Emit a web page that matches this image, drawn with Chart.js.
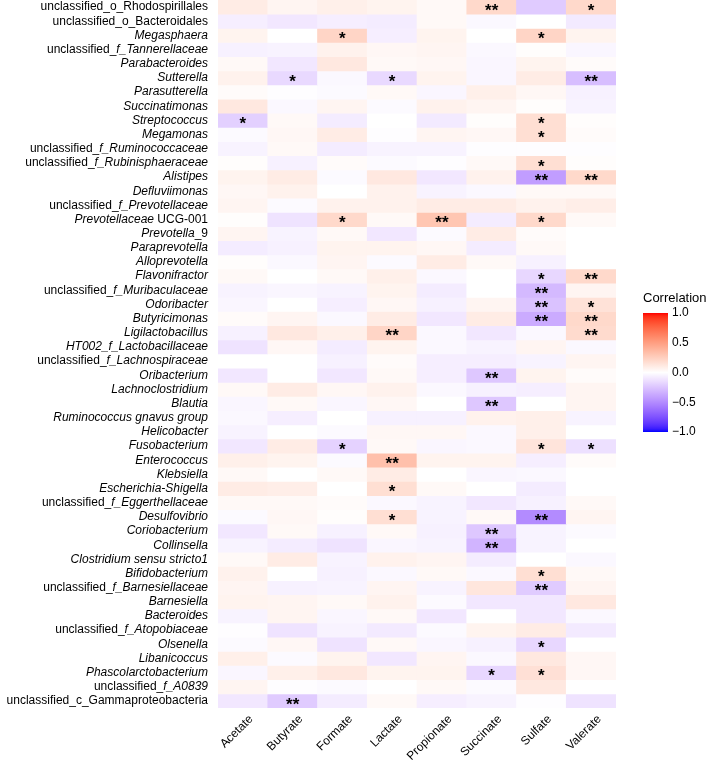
<!DOCTYPE html>
<html>
<head>
<meta charset="utf-8">
<script src="https://cdn.jsdelivr.net/npm/chart.js@4"></script>
<style>
  body { margin: 0; background: #fff; }
  #wrap { width: 717px; height: 764px; position: relative; }
</style>
</head>
<body>
<div id="wrap"><canvas id="heat"></canvas></div>
<script>
const acids = ["Acetate", "Butyrate", "Formate", "Lactate", "Propionate", "Succinate", "Sulfate", "Valerate"];

// each label: [upright prefix, italic part, upright suffix]
const taxa = [
    ["unclassified_o_Rhodospirillales", "", ""],
    ["unclassified_o_Bacteroidales", "", ""],
    ["", "Megasphaera", ""],
    ["unclassified_", "f_Tannerellaceae", ""],
    ["", "Parabacteroides", ""],
    ["", "Sutterella", ""],
    ["", "Parasutterella", ""],
    ["", "Succinatimonas", ""],
    ["", "Streptococcus", ""],
    ["", "Megamonas", ""],
    ["unclassified_", "f_Ruminococcaceae", ""],
    ["unclassified_", "f_Rubinisphaeraceae", ""],
    ["", "Alistipes", ""],
    ["", "Defluviimonas", ""],
    ["unclassified_", "f_Prevotellaceae", ""],
    ["", "Prevotellaceae", " UCG-001"],
    ["", "Prevotella", "_9"],
    ["", "Paraprevotella", ""],
    ["", "Alloprevotella", ""],
    ["", "Flavonifractor", ""],
    ["unclassified_", "f_Muribaculaceae", ""],
    ["", "Odoribacter", ""],
    ["", "Butyricimonas", ""],
    ["", "Ligilactobacillus", ""],
    ["", "HT002_f_Lactobacillaceae", ""],
    ["unclassified_", "f_Lachnospiraceae", ""],
    ["", "Oribacterium", ""],
    ["", "Lachnoclostridium", ""],
    ["", "Blautia", ""],
    ["", "Ruminococcus gnavus group", ""],
    ["", "Helicobacter", ""],
    ["", "Fusobacterium", ""],
    ["", "Enterococcus", ""],
    ["", "Klebsiella", ""],
    ["", "Escherichia-Shigella", ""],
    ["unclassified_", "f_Eggerthellaceae", ""],
    ["", "Desulfovibrio", ""],
    ["", "Coriobacterium", ""],
    ["", "Collinsella", ""],
    ["", "Clostridium sensu stricto1", ""],
    ["", "Bifidobacterium", ""],
    ["unclassified_", "f_Barnesiellaceae", ""],
    ["", "Barnesiella", ""],
    ["", "Bacteroides", ""],
    ["unclassified_", "f_Atopobiaceae", ""],
    ["", "Olsenella", ""],
    ["", "Libanicoccus", ""],
    ["", "Phascolarctobacterium", ""],
    ["unclassified_", "f_A0839", ""],
    ["unclassified_c_Gammaproteobacteria", "", ""]
];

// correlation, rows follow taxa, columns follow acids
const corr = [
    [0.10, 0.05, 0.08, 0.06, 0.03, 0.20, -0.22, 0.20],
    [-0.07, -0.10, -0.07, -0.08, 0.03, -0.03, 0.00, -0.09],
    [0.06, 0.00, 0.22, -0.07, 0.06, 0.00, 0.22, 0.06],
    [-0.06, -0.05, 0.07, 0.04, 0.05, -0.03, 0.01, -0.04],
    [0.03, -0.10, 0.12, 0.03, 0.04, -0.04, 0.06, 0.02],
    [0.07, -0.16, -0.03, -0.16, 0.06, -0.04, 0.10, -0.28],
    [0.02, -0.01, -0.02, 0.03, -0.04, 0.08, 0.04, -0.06],
    [0.12, -0.03, 0.05, -0.02, 0.07, 0.05, 0.01, -0.05],
    [-0.20, 0.03, -0.08, 0.00, -0.09, 0.01, 0.17, 0.01],
    [-0.02, 0.04, 0.10, -0.01, 0.05, 0.04, 0.17, 0.02],
    [-0.05, 0.03, -0.08, -0.05, -0.05, -0.01, -0.01, -0.01],
    [0.01, -0.06, 0.02, -0.02, -0.01, 0.03, 0.17, 0.01],
    [0.06, 0.10, -0.02, 0.12, -0.10, 0.07, -0.42, 0.20],
    [0.04, 0.07, 0.00, 0.07, -0.05, -0.03, 0.03, 0.03],
    [0.05, -0.02, 0.07, 0.07, 0.10, 0.10, 0.07, 0.09],
    [0.01, -0.12, 0.20, 0.03, 0.30, -0.08, 0.20, 0.03],
    [0.05, -0.05, 0.03, -0.10, -0.02, 0.10, 0.02, 0.00],
    [-0.08, -0.06, 0.06, 0.06, 0.04, -0.08, 0.03, 0.00],
    [0.01, -0.03, 0.05, -0.02, 0.10, 0.03, -0.06, 0.00],
    [0.03, 0.00, 0.03, 0.08, -0.03, 0.00, -0.17, 0.20],
    [-0.05, -0.04, -0.05, 0.06, -0.08, 0.00, -0.30, 0.05],
    [-0.04, 0.00, -0.07, 0.04, -0.06, 0.05, -0.26, 0.15],
    [0.02, 0.05, -0.03, 0.10, -0.10, 0.10, -0.36, 0.20],
    [-0.06, 0.12, 0.08, 0.22, -0.03, -0.10, -0.03, 0.19],
    [-0.12, 0.04, -0.08, 0.06, -0.03, -0.05, 0.05, -0.03],
    [0.00, 0.00, -0.06, 0.02, -0.07, -0.07, -0.05, 0.05],
    [-0.10, 0.00, -0.10, 0.03, -0.07, -0.24, 0.06, 0.02],
    [0.03, 0.10, 0.04, 0.07, -0.03, -0.06, -0.07, 0.05],
    [-0.04, 0.03, -0.04, 0.04, 0.00, -0.24, 0.00, 0.05],
    [-0.03, -0.07, 0.00, -0.06, -0.06, 0.07, 0.08, -0.05],
    [-0.05, 0.00, -0.02, 0.04, 0.04, -0.03, 0.08, 0.00],
    [-0.10, 0.10, -0.19, 0.03, -0.04, -0.03, 0.14, -0.13],
    [0.08, 0.06, -0.02, 0.33, 0.06, 0.06, -0.07, 0.02],
    [0.03, 0.00, 0.03, 0.10, 0.00, -0.04, -0.03, 0.00],
    [0.10, 0.09, 0.00, 0.17, 0.03, 0.00, -0.08, 0.00],
    [0.03, 0.03, 0.02, -0.03, -0.05, -0.10, -0.06, 0.03],
    [-0.02, 0.04, 0.01, 0.17, -0.05, 0.03, -0.50, 0.05],
    [-0.10, 0.03, -0.06, 0.03, -0.06, -0.24, -0.05, -0.02],
    [-0.05, -0.08, -0.12, -0.04, -0.05, -0.32, -0.05, 0.00],
    [0.03, 0.10, -0.05, 0.07, 0.05, -0.08, 0.00, -0.03],
    [0.07, 0.00, -0.06, -0.03, 0.03, -0.03, 0.17, 0.03],
    [0.05, -0.06, -0.05, 0.05, -0.05, 0.13, -0.22, 0.05],
    [0.06, 0.05, 0.03, 0.07, -0.02, -0.10, -0.10, 0.12],
    [-0.05, 0.05, -0.04, 0.03, -0.10, 0.00, -0.10, -0.03],
    [-0.01, -0.12, -0.05, -0.09, -0.02, 0.06, 0.10, -0.09],
    [-0.02, 0.04, -0.12, 0.03, -0.04, -0.06, -0.17, 0.00],
    [0.08, -0.02, 0.06, -0.10, 0.05, -0.03, 0.12, 0.04],
    [-0.04, 0.08, 0.12, 0.06, 0.06, -0.17, 0.16, 0.04],
    [0.05, -0.01, -0.02, 0.00, 0.03, -0.02, 0.12, 0.00],
    [-0.10, -0.22, -0.08, 0.03, -0.07, -0.05, -0.01, -0.12]
];

// significance marks, same layout as corr
const signif = [
    ["", "", "", "", "", "**", "", "*"],
    ["", "", "", "", "", "", "", ""],
    ["", "", "*", "", "", "", "*", ""],
    ["", "", "", "", "", "", "", ""],
    ["", "", "", "", "", "", "", ""],
    ["", "*", "", "*", "", "", "", "**"],
    ["", "", "", "", "", "", "", ""],
    ["", "", "", "", "", "", "", ""],
    ["*", "", "", "", "", "", "*", ""],
    ["", "", "", "", "", "", "*", ""],
    ["", "", "", "", "", "", "", ""],
    ["", "", "", "", "", "", "*", ""],
    ["", "", "", "", "", "", "**", "**"],
    ["", "", "", "", "", "", "", ""],
    ["", "", "", "", "", "", "", ""],
    ["", "", "*", "", "**", "", "*", ""],
    ["", "", "", "", "", "", "", ""],
    ["", "", "", "", "", "", "", ""],
    ["", "", "", "", "", "", "", ""],
    ["", "", "", "", "", "", "*", "**"],
    ["", "", "", "", "", "", "**", ""],
    ["", "", "", "", "", "", "**", "*"],
    ["", "", "", "", "", "", "**", "**"],
    ["", "", "", "**", "", "", "", "**"],
    ["", "", "", "", "", "", "", ""],
    ["", "", "", "", "", "", "", ""],
    ["", "", "", "", "", "**", "", ""],
    ["", "", "", "", "", "", "", ""],
    ["", "", "", "", "", "**", "", ""],
    ["", "", "", "", "", "", "", ""],
    ["", "", "", "", "", "", "", ""],
    ["", "", "*", "", "", "", "*", "*"],
    ["", "", "", "**", "", "", "", ""],
    ["", "", "", "", "", "", "", ""],
    ["", "", "", "*", "", "", "", ""],
    ["", "", "", "", "", "", "", ""],
    ["", "", "", "*", "", "", "**", ""],
    ["", "", "", "", "", "**", "", ""],
    ["", "", "", "", "", "**", "", ""],
    ["", "", "", "", "", "", "", ""],
    ["", "", "", "", "", "", "*", ""],
    ["", "", "", "", "", "", "**", ""],
    ["", "", "", "", "", "", "", ""],
    ["", "", "", "", "", "", "", ""],
    ["", "", "", "", "", "", "", ""],
    ["", "", "", "", "", "", "*", ""],
    ["", "", "", "", "", "", "", ""],
    ["", "", "", "", "", "*", "*", ""],
    ["", "", "", "", "", "", "", ""],
    ["", "**", "", "", "", "", "", ""]
];

const legendBreaks = [1.0, 0.5, 0.0, -0.5, -1.0];
const legendLabels = ["1.0", "0.5", "0.0", "\u22120.5", "\u22121.0"];

// blue - white - red, mixed in Lab like ggplot's gradient2
const LAB_RED = [53.24, 80.09, 67.20];
const LAB_WHITE = [100, 0, 0];
const LAB_BLUE = [32.30, 79.19, -107.86];

function labToRgb(L, a, b) {
    let fy = (L + 16) / 116;
    let fx = fy + a / 500;
    let fz = fy - b / 200;
    const finv = t => t * t * t > 0.008856 ? t * t * t : (t - 16 / 116) / 7.787;
    let X = 0.95047 * finv(fx), Y = finv(fy), Z = 1.08883 * finv(fz);
    let r = 3.2406 * X - 1.5372 * Y - 0.4986 * Z;
    let g = -0.9689 * X + 1.8758 * Y + 0.0415 * Z;
    let bl = 0.0557 * X - 0.2040 * Y + 1.0570 * Z;
    const gam = c => {
        c = c > 0.0031308 ? 1.055 * Math.pow(c, 1 / 2.4) - 0.055 : 12.92 * c;
        return Math.round(Math.min(1, Math.max(0, c)) * 255);
    };
    return `rgb(${gam(r)},${gam(g)},${gam(bl)})`;
}

function corrColor(v) {
    const end = v >= 0 ? LAB_RED : LAB_BLUE;
    const t = Math.min(1, Math.abs(v));
    return labToRgb(
        LAB_WHITE[0] + (end[0] - LAB_WHITE[0]) * t,
        LAB_WHITE[1] + (end[1] - LAB_WHITE[1]) * t,
        LAB_WHITE[2] + (end[2] - LAB_WHITE[2]) * t
    );
}

const FONT = '"Liberation Sans", Arial, sans-serif';

const decorations = {
    id: "decorations",
    afterDatasetsDraw(chart) {
        const ctx = chart.ctx;
        const xs = chart.scales.x;
        const ys = chart.scales.y;
        const area = chart.chartArea;
        ctx.save();

        // significance stars
        ctx.fillStyle = "#000";
        ctx.font = `bold 17px ${FONT}`;
        ctx.textAlign = "center";
        ctx.textBaseline = "middle";
        signif.forEach((row, i) => {
            row.forEach((s, j) => {
                if (!s) return;
                ctx.fillText(s, xs.getPixelForValue(j), ys.getPixelForValue(i) + 4);
            });
        });

        // row labels with italic parts
        ctx.textBaseline = "middle";
        ctx.textAlign = "left";
        const upright = `12px ${FONT}`;
        const italic = `italic 12px ${FONT}`;
        taxa.forEach((parts, i) => {
            const fonts = [upright, italic, upright];
            let widths = parts.map((p, k) => { ctx.font = fonts[k]; return ctx.measureText(p).width; });
            let x = area.left - 10 - widths.reduce((a, b) => a + b, 0);
            const y = ys.getPixelForValue(i);
            parts.forEach((p, k) => {
                if (!p) return;
                ctx.font = fonts[k];
                ctx.fillText(p, x, y);
                x += widths[k];
            });
        });

        // column labels, rotated 45 degrees
        ctx.font = `12px ${FONT}`;
        ctx.textAlign = "right";
        ctx.textBaseline = "top";
        acids.forEach((name, j) => {
            ctx.save();
            ctx.translate(xs.getPixelForValue(j) + 4, area.bottom + 5);
            ctx.rotate(-Math.PI / 4);
            ctx.fillText(name, 0, 0);
            ctx.restore();
        });

        // colour bar legend
        const barX = 643, barW = 25, barTop = 313, barBottom = 432;
        const legY = v => barTop + (1 - v) / 2 * (barBottom - barTop);
        const grad = ctx.createLinearGradient(0, barTop, 0, barBottom);
        for (let k = 0; k <= 40; k++) {
            const v = 1 - k / 20;
            grad.addColorStop(k / 40, corrColor(v));
        }
        ctx.fillStyle = grad;
        ctx.fillRect(barX, barTop, barW, barBottom - barTop);

        ctx.fillStyle = "#000";
        ctx.font = `13px ${FONT}`;
        ctx.textAlign = "left";
        ctx.textBaseline = "middle";
        ctx.fillText("Correlation", barX, 298);
        ctx.font = `12px ${FONT}`;
        legendBreaks.forEach((b, k) => {
            ctx.fillText(legendLabels[k], barX + barW + 4, legY(b));
        });
        ctx.restore();
    }
};

const datasets = taxa.map((t, i) => ({
    label: t.join(""),
    data: acids.map(() => [i - 0.5, i + 0.5]),
    backgroundColor: corr[i].map(corrColor),
    borderWidth: 0,
    barPercentage: 1,
    categoryPercentage: 1,
    grouped: false
}));

new Chart(document.getElementById("heat"), {
    type: "bar",
    data: { labels: acids, datasets: datasets },
    options: {
        responsive: true,
        maintainAspectRatio: false,
        animation: false,
        layout: { padding: { left: 218, right: 101, top: 0, bottom: 56 } },
        plugins: {
            legend: { display: false },
            tooltip: { enabled: false }
        },
        scales: {
            x: { type: "category", display: false, offset: true },
            y: { type: "linear", display: false, min: -0.5, max: 49.5, reverse: true }
        }
    },
    plugins: [decorations]
});
</script>
</body>
</html>
